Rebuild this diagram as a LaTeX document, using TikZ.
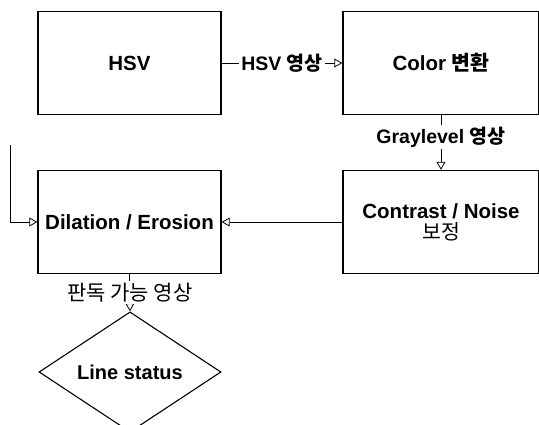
\documentclass[tikz,border=0pt]{standalone}
\usepackage{fontspec}
\setmainfont{Liberation Sans}
\newfontfamily\krfont{Noto Sans CJK KR}
\newcommand{\ko}[1]{{\krfont #1}}
\usetikzlibrary{arrows.meta,positioning,shapes.geometric}
\tikzset{%
  process box/.style={%
    draw,
    line width=1.4pt,
    rectangle,
    minimum width=183pt,
    minimum height=103pt,
    align=center,
    font=\fontsize{20.5}{24}\selectfont\bfseries
  }
}
\tikzset{%
  decision box/.style={%
    draw,
    line width=1.1pt,
    diamond,
    inner sep=0pt,
    minimum width=182pt,
    minimum height=100pt,
    font=\fontsize{20}{24}\selectfont\bfseries
  }
}
\tikzset{%
  flow arrow/.style={%
    line width=0.8pt,
    -{Triangle[open,length=8pt,width=9pt]}
  }
}
\tikzset{%
  flow label/.style={%
    fill=white,
    inner sep=2pt,
    font=\fontsize{19.5}{23}\selectfont\bfseries
  }
}

\begin{document}
\begin{tikzpicture}[x=1pt,y=-1pt]
  \useasboundingbox (0,0) rectangle (539,424);
  \node[process box] (hsv) at (129.5, 63) {HSV};
  \node[process box, minimum width=196pt] (color) at (441, 63) {Color \ko{변환}};
  \node[process box] (dilation) at (129.5, 222) {Dilation / Erosion};
  \node[process box, minimum width=196pt] (contrast) at (441, 222) {Contrast / Noise\\[-3pt] \mdseries\ko{보정}};
  \node[decision box] (status) at (130, 372) {Line status};
  \coordinate (input) at (10, 145);
  \draw [flow arrow] (hsv.east) -- node[flow label] {HSV \ko{영상}} (color.west);
  \draw [flow arrow] (color.south) -- node[flow label, pos=0.4] {Graylevel \ko{영상}} (contrast.north);
  \draw [flow arrow] (contrast.west) -- (dilation.east);
  \draw [flow arrow] (dilation.south) -- node[flow label, font=\fontsize{21}{24}\selectfont] {\ko{판독 가능 영상}} (status.north);
  \draw [flow arrow] (input) |- (dilation.west);
\end{tikzpicture}
\end{document}
